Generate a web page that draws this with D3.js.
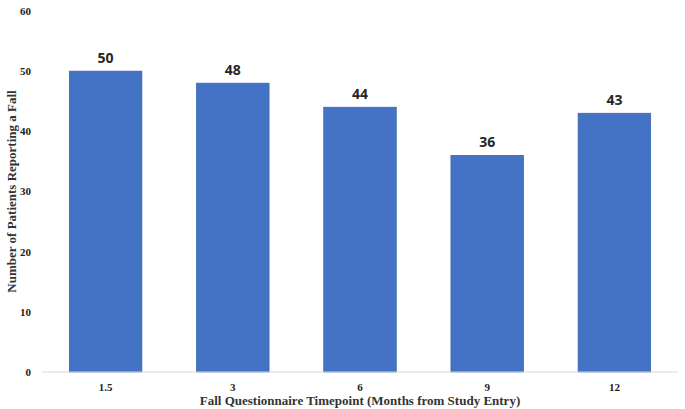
<!DOCTYPE html>
<html>
<head>
<script src="https://d3js.org/d3.v7.min.js"></script>
<style>
  body { margin: 0; background: #fff; }
</style>
</head>
<body>
<svg width="685" height="409"></svg>
<script>
const categories = ['1.5', '3', '6', '9', '12'];
const values = [50, 48, 44, 36, 43];
const yTicks = [0, 10, 20, 30, 40, 50, 60];

const svg = d3.select('svg');
const margin = {left: 42, right: 7, top: 11, bottom: 37};
const width = 685, height = 409;

const x = d3.scaleBand()
  .domain(categories)
  .range([margin.left, width - margin.right])
  .paddingInner(0.43)
  .paddingOuter(0.215);

const y = d3.scaleLinear()
  .domain([0, 60])
  .range([height - margin.bottom, margin.top]);

// y tick labels
svg.append('g')
  .selectAll('text')
  .data(yTicks)
  .enter()
  .append('text')
  .attr('x', 31)
  .attr('y', d => y(d))
  .attr('dy', '0.35em')
  .attr('text-anchor', 'end')
  .style('font-family', '"Liberation Serif", serif')
  .style('font-weight', 'bold')
  .style('font-size', '11px')
  .style('fill', '#222')
  .text(d => d);

// bars
svg.append('g')
  .selectAll('rect')
  .data(values)
  .enter()
  .append('rect')
  .attr('x', (d, i) => x(categories[i]))
  .attr('y', d => y(d))
  .attr('width', x.bandwidth())
  .attr('height', d => y(0) - y(d))
  .style('fill', '#4472C4')
  .style('stroke', '#3d67b3')
  .style('stroke-width', 0.8);

// value labels
svg.append('g')
  .selectAll('text')
  .data(values)
  .enter()
  .append('text')
  .attr('x', (d, i) => x(categories[i]) + x.bandwidth() / 2)
  .attr('y', d => y(d) - 8)
  .attr('text-anchor', 'middle')
  .style('font-family', '"Open Sans", sans-serif')
  .style('font-weight', 'bold')
  .style('font-size', '14px')
  .style('fill', '#262626')
  .text(d => d);

// x axis line
svg.append('line')
  .attr('x1', margin.left)
  .attr('x2', width - margin.right)
  .attr('y1', y(0))
  .attr('y2', y(0))
  .style('stroke', '#d9d9d9')
  .style('stroke-width', 1);

// x tick labels
svg.append('g')
  .selectAll('text')
  .data(categories)
  .enter()
  .append('text')
  .attr('x', d => x(d) + x.bandwidth() / 2)
  .attr('y', y(0) + 19)
  .attr('text-anchor', 'middle')
  .style('font-family', '"Liberation Serif", serif')
  .style('font-weight', 'bold')
  .style('font-size', '11px')
  .style('fill', '#222')
  .text(d => d);

// axis titles
svg.append('text')
  .attr('x', (margin.left + width - margin.right) / 2)
  .attr('y', 405)
  .attr('text-anchor', 'middle')
  .style('font-family', '"Liberation Serif", serif')
  .style('font-weight', 'bold')
  .style('font-size', '13px')
  .style('fill', '#333')
  .text('Fall Questionnaire Timepoint (Months from Study Entry)');

svg.append('text')
  .attr('transform', `translate(16,${y(30)}) rotate(-90)`)
  .attr('text-anchor', 'middle')
  .style('font-family', '"Liberation Serif", serif')
  .style('font-weight', 'bold')
  .style('font-size', '13px')
  .style('fill', '#333')
  .text('Number of Patients Reporting a Fall');
</script>
</body>
</html>
